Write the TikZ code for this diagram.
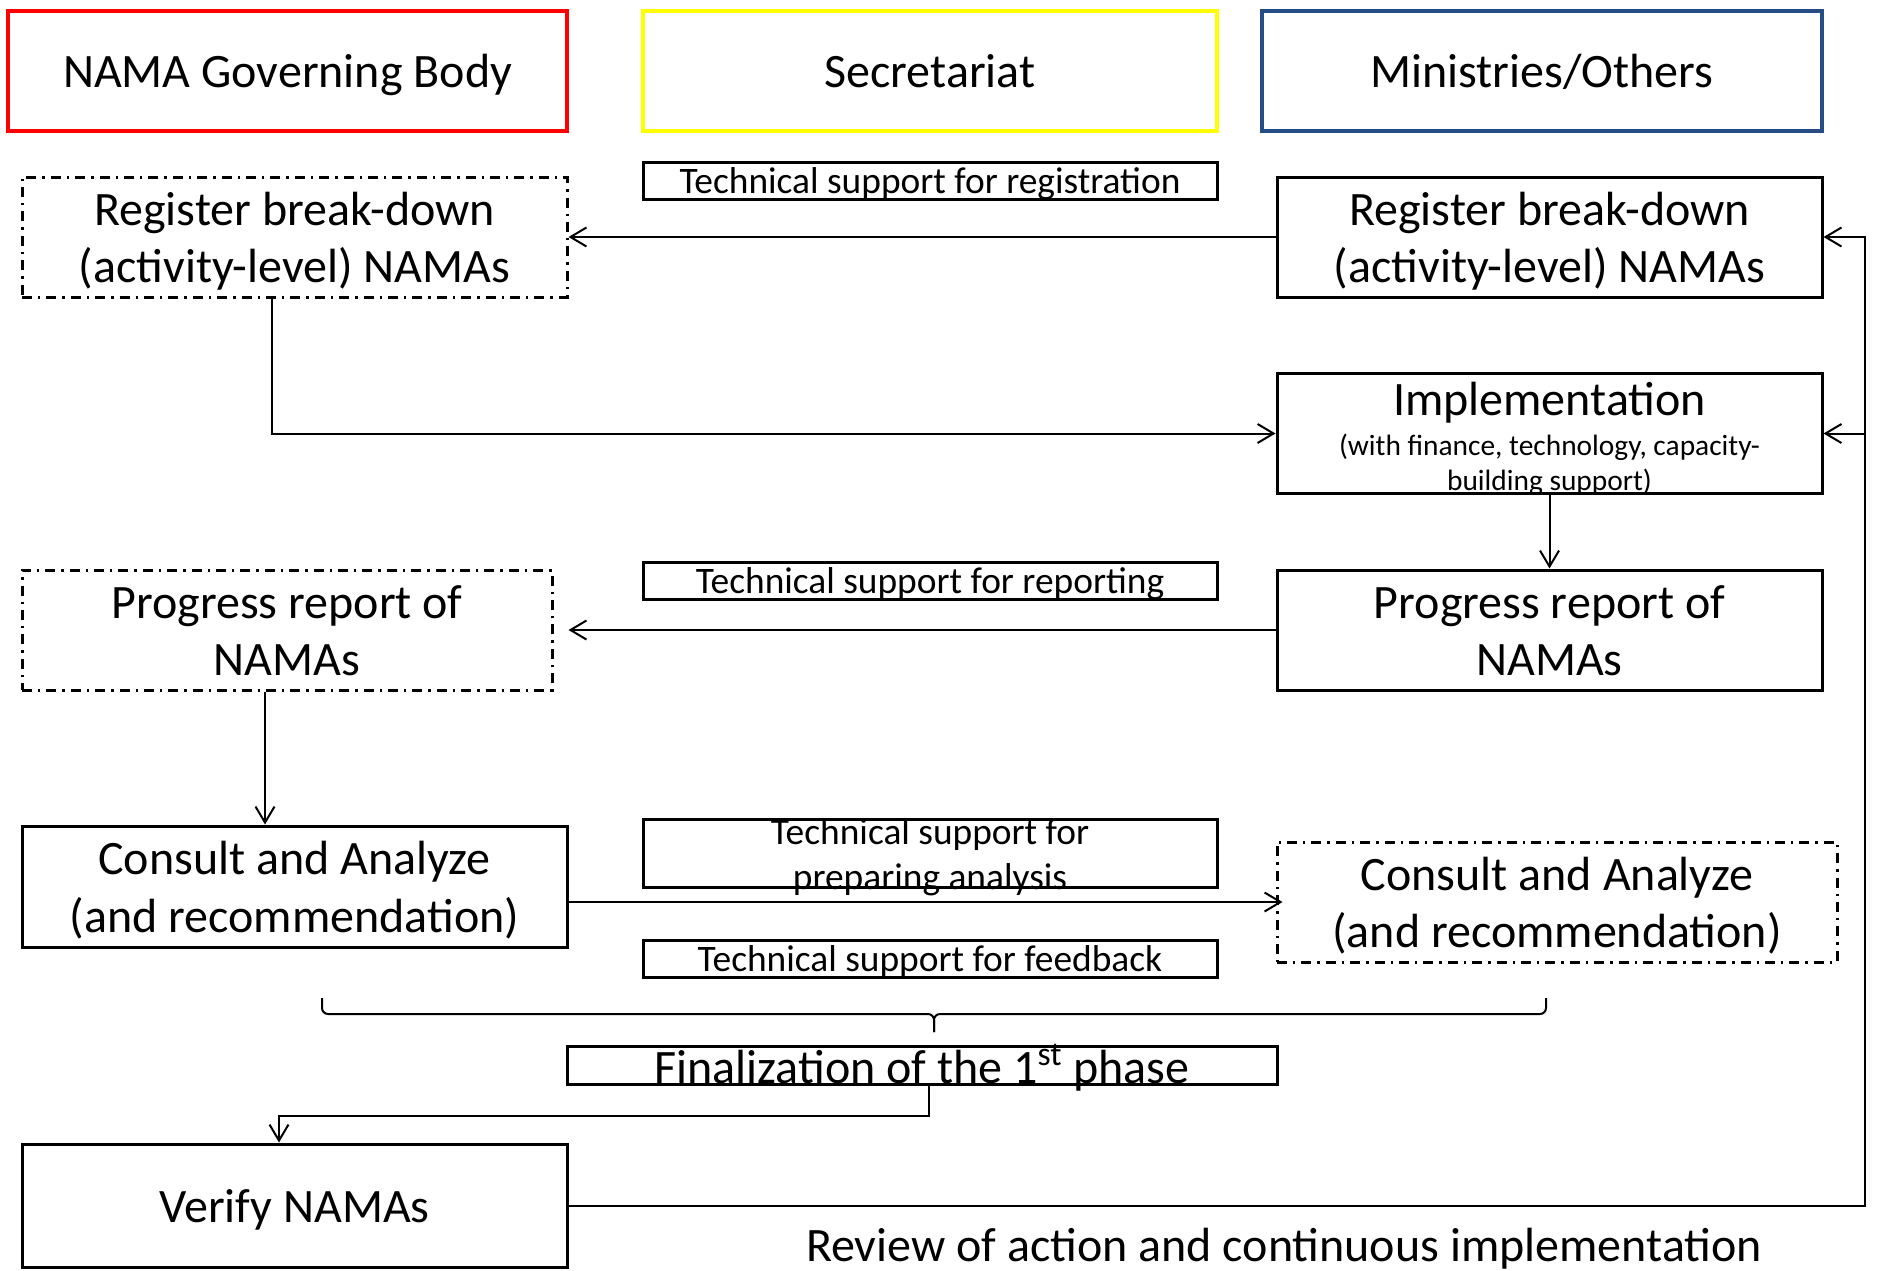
\documentclass[tikz,border=0pt]{standalone}
\usepackage{fontspec}
\setmainfont{Carlito}
\usetikzlibrary{arrows.meta}
\definecolor{govred}{RGB}{255,0,0}
\definecolor{secyellow}{RGB}{255,255,0}
\definecolor{minblue}{RGB}{37,76,133}
\newcommand\upstrut{\rule{0pt}{23pt}}
\newcommand\downstrut{\rule[-6.25pt]{0pt}{6.25pt}}

\begin{document}
\begin{tikzpicture}[x=0.5pt,y=-0.5pt,
  >={Straight Barb[length=8pt,width=9.5pt]},
  bigtext/.style={font=\fontsize{24}{28.75}\selectfont},
  smalltext/.style={font=\fontsize{18.7}{22.2}\selectfont},
  subtext/.style={font=\fontsize{14.7}{17.4}\selectfont},
  oneline/.style={text height=20.4pt,text depth=3.6pt},
  headbox/.style={draw,line width=2pt,bigtext,oneline,inner sep=0pt,minimum height=60pt},
  plainbox/.style={draw,line width=1.5pt,bigtext,align=center,inner sep=0pt,
    minimum width=272.5pt,minimum height=60pt},
  dotbox/.style={plainbox,dash pattern=on 5pt off 3pt on 1.2pt off 3pt},
  tsbox/.style={draw,line width=1.5pt,smalltext,text height=15.5pt,text depth=2.5pt,
    inner sep=0pt,minimum width=287pt,minimum height=18.5pt},
  link/.style={line width=1pt,->}]
  \useasboundingbox (0,0) rectangle (1878,1270);

  \node[headbox,draw=govred,minimum width=279.5pt] (gov) at (287.5,71) {NAMA Governing Body};
  \node[headbox,draw=secyellow,minimum width=287pt] (sec) at (930,71) {Secretariat};
  \node[headbox,draw=minblue,minimum width=280pt] (min) at (1542,71) {Ministries/Others};

  \node[dotbox] (regL) at (294.5,237) {\upstrut Register break-down\\(activity-level) NAMAs\downstrut};
  \node[plainbox] (regR) at (1549.5,237) {\upstrut Register break-down\\(activity-level) NAMAs\downstrut};
  \node[tsbox] (tsReg) at (930,180.5) {Technical support for registration};

  \node[plainbox,
    label={[bigtext,yshift=15.25pt]center:Implementation},
    label={[subtext,align=center,yshift=-15.5pt]center:{(with finance, technology, capacity-\\building support)}}]
    (impl) at (1549.5,433.5) {};

  \node[plainbox] (progR) at (1549.5,630) {\upstrut Progress report of\\NAMAs\downstrut};
  \node[dotbox,minimum width=265pt] (progL) at (287,630) {\upstrut Progress report of\\NAMAs\downstrut};
  \node[tsbox] (tsRep) at (930,580.5) {Technical support for reporting};

  \node[plainbox,minimum height=60.5pt] (conL) at (294.5,886.5) {\upstrut Consult and Analyze\\(and recommendation)\downstrut};
  \node[dotbox,minimum width=280pt] (conR) at (1557,902) {\upstrut Consult and Analyze\\(and recommendation)\downstrut};
  \node[tsbox,minimum height=34pt,
    label={[smalltext,align=center,yshift=-2.1pt]center:{Technical support for\\preparing analysis}}]
    (tsPrep) at (930,853) {};
  \node[tsbox] (tsFb) at (930,958.5) {Technical support for feedback};

  \coordinate (braceL) at (322,998);
  \coordinate (braceR) at (1546,998);
  \coordinate (braceM) at (934,1014);
  \draw[line width=1pt,rounded corners=3pt] (braceL) |- (braceM) -- ++(0,18);
  \draw[line width=1pt,rounded corners=3pt] (braceR) |- (braceM) -- ++(0,18);

  \node[draw,line width=1.5pt,minimum width=355pt,minimum height=19pt,inner sep=0pt,
    label={[bigtext,yshift=-1.4pt]center:{Finalization of the 1\textsuperscript{st} phase}}]
    (fin) at (922,1065) {};

  \node[plainbox,oneline,minimum height=61.5pt] (ver) at (294.5,1205.5) {Verify NAMAs};
  \node[bigtext,anchor=base] (review) at (1284,1261.5) {Review of action and continuous implementation};

  \draw[link] (regR.west) -- (regL.east);
  \draw[link] ([xshift=-11.25pt]regL.south) |- (impl.west);
  \draw[link] (impl.south) -- (progR.north);
  \draw[link] (progR.west) -- (progR.west -| regL.east);
  \draw[link] ([xshift=-11pt]progL.south) -- ([xshift=-11pt]progL.south |- conL.north);
  \draw[link] (conL.east |- conR.west) -- ([xshift=3.5pt]conR.west);
  \draw[link] ([xshift=3.5pt]fin.south) -- ++(0,30) -| ([xshift=-7.75pt]ver.north);
  \coordinate (back) at (1865,237);
  \draw[link] (ver.east) -| (back) -- (regR.east);
  \draw[link] (back |- impl.east) -- (impl.east);
\end{tikzpicture}
\end{document}
